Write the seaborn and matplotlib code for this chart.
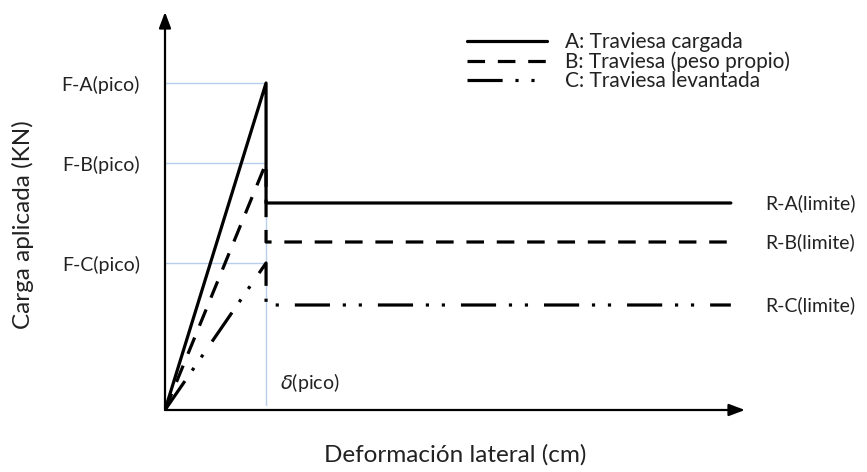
import matplotlib
matplotlib.use("Agg")
import matplotlib.pyplot as plt
import seaborn as sns
import pandas as pd

sns.set_theme(style="white")
plt.rcParams['font.family'] = ['Lato', 'DejaVu Sans']

# Data (schematic values)
x_points = [0.0, 1.0, 1.0, 5.6]
serie_A = [0.0, 3.27, 2.07, 2.07]
serie_B = [0.0, 2.47, 1.68, 1.68]
serie_C = [0.0, 1.47, 1.05, 1.05]
series_names = ["A: Traviesa cargada", "B: Traviesa (peso propio)", "C: Traviesa levantada"]
peak_labels = ["F-A(pico)", "F-B(pico)", "F-C(pico)"]
limit_labels = ["R-A(limite)", "R-B(limite)", "R-C(limite)"]
delta_peak = 1.0

W, H = 867, 472
fig = plt.figure(figsize=(W / 100, H / 100), dpi=100)
x0, y0, x1, y1 = 165, 410, 745, 12
ax = fig.add_axes([x0 / W, (H - y0) / H, (x1 - x0) / W, (y0 - y1) / H])
ax.set_xlim(0, 5.74)
ax.set_ylim(0, 3.98)
for s in ax.spines.values():
    s.set_visible(False)

guide = "#b7cfec"
peaks = [serie_A[1], serie_B[1], serie_C[1]]
for p in peaks:
    ax.plot([0, delta_peak], [p, p], color=guide, lw=1.0, zorder=1)
ax.plot([delta_peak, delta_peak], [0.05, serie_A[1]], color=guide, lw=1.0, zorder=1)

styles = ["-", (0, (5.5, 4)), (0, (11, 4, 1, 4, 1, 5))]
data_list = [serie_A, serie_B, serie_C]
for name, vals, ls in zip(series_names, data_list, styles):
    df = pd.DataFrame({"x": x_points, "y": vals})
    sns.lineplot(data=df, x="x", y="y", sort=False, estimator=None, ax=ax,
                 color="black", lw=2.3, linestyle=ls, label=name, zorder=3)

# axes with arrows
arrow_kw = dict(arrowstyle="-|>,head_length=0.8,head_width=0.3", color="black", lw=1.6,
                shrinkA=0, shrinkB=0)
ax.annotate("", xy=(0, 1.0), xytext=(0, 0), xycoords="axes fraction", arrowprops=arrow_kw)
ax.annotate("", xy=(1.0, 0), xytext=(0, 0), xycoords="axes fraction", arrowprops=arrow_kw)

ax.set_yticks(peaks)
ax.set_yticklabels(peak_labels, fontsize=14, color="#222222")
ax.tick_params(axis="y", length=0, pad=18)
ax.set_xticks([])

for lab, v in zip(limit_labels, [serie_A[2], serie_B[2], serie_C[2]]):
    ax.text(5.94, v, lab, fontsize=14, va="center", ha="left", color="#222222")

ax.text(delta_peak + 0.14, 0.27, r"$\delta$(pico)", fontsize=14, va="center", ha="left",
        color="#222222")

ax.set_xlabel("")
ax.set_ylabel("")
fig.text(23 / W, 1 - 225 / H, "Carga aplicada (KN)", rotation=90, fontsize=17.5,
         ha="center", va="center", color="#222222")
fig.text(455 / W, 1 - 455 / H, "Deformación lateral (cm)", fontsize=17.5,
         ha="center", va="center", color="#222222")

leg = ax.legend(loc="upper left", bbox_to_anchor=((467 - x0) / (x1 - x0), (y0 - 32) / (y0 - y1)),
                frameon=False, fontsize=15, handlelength=3.85, labelspacing=-0.03,
                handletextpad=0.85, borderpad=0, borderaxespad=0)
for t in leg.get_texts():
    t.set_color("#222222")

fig.savefig("out.png", dpi=100)
